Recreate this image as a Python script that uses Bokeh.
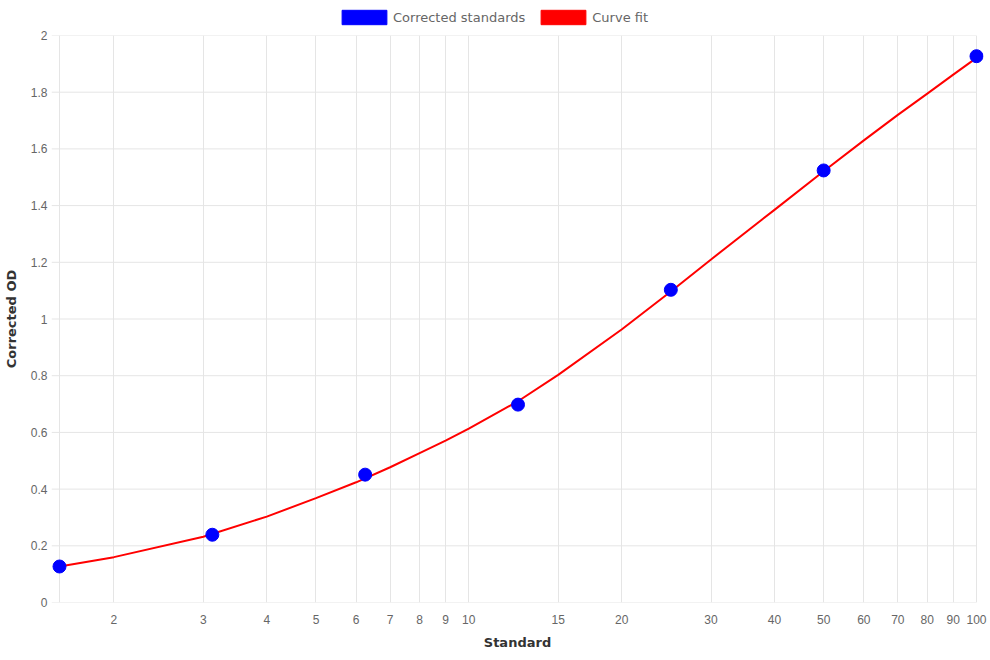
from bokeh.plotting import figure
from bokeh.models import Legend, LegendItem, FixedTicker, ColumnDataSource, Range1d
from bokeh.layouts import column
from bokeh.embed import file_html
from bokeh.resources import INLINE

# Data
std_x = [1.5625, 3.125, 6.25, 12.5, 25, 50, 100]
std_y = [0.127, 0.239, 0.451, 0.698, 1.103, 1.524, 1.927]

curve_x = [1.5625, 2, 3, 4, 5, 6, 7, 8, 9, 10, 12.5, 15, 20, 25, 30, 40, 50, 60, 70, 80, 90, 100]
curve_y = [0.127, 0.160, 0.232, 0.303, 0.368, 0.424, 0.477, 0.527, 0.571, 0.613, 0.710,
           0.803, 0.963, 1.097, 1.210, 1.385, 1.521, 1.630, 1.720, 1.795, 1.862, 1.921]

x_ticks = [2, 3, 4, 5, 6, 7, 8, 9, 10, 15, 20, 30, 40, 50, 60, 70, 80, 90, 100]
x_tick_labels = ["2", "3", "4", "5", "6", "7", "8", "9", "10", "15", "20", "30", "40",
                 "50", "60", "70", "80", "90", "100"]
y_ticks = [0, 0.2, 0.4, 0.6, 0.8, 1, 1.2, 1.4, 1.6, 1.8, 2]
y_tick_labels = ["0", "0.2", "0.4", "0.6", "0.8", "1", "1.2", "1.4", "1.6", "1.8", "2"]

x_min, x_max = 1.5625, 100
y_min, y_max = 0, 2

# layout constants (pixels)
PLOT_W = 917          # width of the data area between x_min and x_max
TICK_OUT = 8          # y tick marks extend left of the data area
PAD_R = 7             # room so the last marker is not clipped
PX_PER_DEC = PLOT_W / (2.0 - 0.19382)  # log10(100) - log10(1.5625)

x_lo = x_min * 10 ** (-TICK_OUT / PX_PER_DEC)
x_hi = x_max * 10 ** (PAD_R / PX_PER_DEC)

GRID = "#e5e5e5"
TICK_FONT = "Liberation Sans"
TITLE_FONT = "DejaVu Sans"

# ---- legend strip (top) ----
leg = figure(width=990, height=28, x_range=Range1d(0, 1), y_range=Range1d(0, 1),
             x_axis_location=None, y_axis_location=None,
             output_backend="svg", toolbar_location=None, min_border=0)
leg.outline_line_color = None
leg.xgrid.visible = False
leg.ygrid.visible = False

nan = float("nan")
swatch = dict(l=[nan], r=[nan], t=[nan], b=[nan])
r_blue = leg.quad(left="l", right="r", top="t", bottom="b", source=ColumnDataSource(swatch),
                  fill_color="blue", line_color="blue")
r_red = leg.quad(left="l", right="r", top="t", bottom="b", source=ColumnDataSource(swatch),
                 fill_color="red", line_color="red")

legend = Legend(items=[LegendItem(label="Corrected standards", renderers=[r_blue]),
                       LegendItem(label="Curve fit", renderers=[r_red])],
                orientation="horizontal", location=(285, 2),
                glyph_width=56, glyph_height=18, label_standoff=1, spacing=10,
                padding=0, margin=0, border_line_color=None,
                background_fill_alpha=0,
                label_text_font=TITLE_FONT, label_text_font_size="13px",
                label_text_color="#666666", label_height=18)
leg.add_layout(legend, "center")

# ---- main chart ----
p = figure(width=990, height=632, x_axis_type="log",
           x_range=Range1d(x_lo, x_hi), y_range=Range1d(y_min, y_max),
           output_backend="svg", toolbar_location=None,
           min_border_left=51, min_border_right=PAD_R, min_border_top=7, min_border_bottom=58)
p.outline_line_color = None
p.background_fill_color = "white"
p.border_fill_color = "white"

# horizontal grid lines (including the 8px tick stubs on the left)
p.segment(x0=[x_lo] * len(y_ticks), x1=[x_max] * len(y_ticks), y0=y_ticks, y1=y_ticks,
          line_color=GRID, line_width=1)

p.line(curve_x, curve_y, line_color="red", line_width=2)
p.scatter(std_x, std_y, size=13, fill_color="blue", line_color="blue")

p.xaxis.ticker = FixedTicker(ticks=x_ticks)
p.xaxis.major_label_overrides = {t: s for t, s in zip(x_ticks, x_tick_labels)}
p.yaxis.ticker = FixedTicker(ticks=y_ticks)
p.yaxis.major_label_overrides = {t: s for t, s in zip(y_ticks, y_tick_labels)}
p.xaxis.minor_tick_line_color = None
p.yaxis.minor_tick_line_color = None

p.xaxis.axis_label = "Standard"
p.yaxis.axis_label = "Corrected OD"
for ax in (p.xaxis, p.yaxis):
    ax.axis_label_text_font = TITLE_FONT
    ax.axis_label_text_font_style = "bold"
    ax.axis_label_text_font_size = "13px"
    ax.axis_label_text_color = "#333333"
    ax.major_label_text_font = TICK_FONT
    ax.major_label_text_font_size = "12px"
    ax.major_label_text_color = "#666666"
    ax.axis_line_color = None
    ax.major_tick_line_color = None
    ax.major_tick_out = 0
    ax.major_tick_in = 0

p.xaxis.major_label_standoff = 12
p.xaxis.axis_label_standoff = 8
p.yaxis.major_label_standoff = 4
p.yaxis.axis_label_standoff = 9

p.xgrid.ticker = FixedTicker(ticks=[x_min] + x_ticks)
p.xgrid.grid_line_color = GRID
p.ygrid.visible = False

layout = column(leg, p, spacing=0)
open("out.html", "w").write(file_html(layout, INLINE))
